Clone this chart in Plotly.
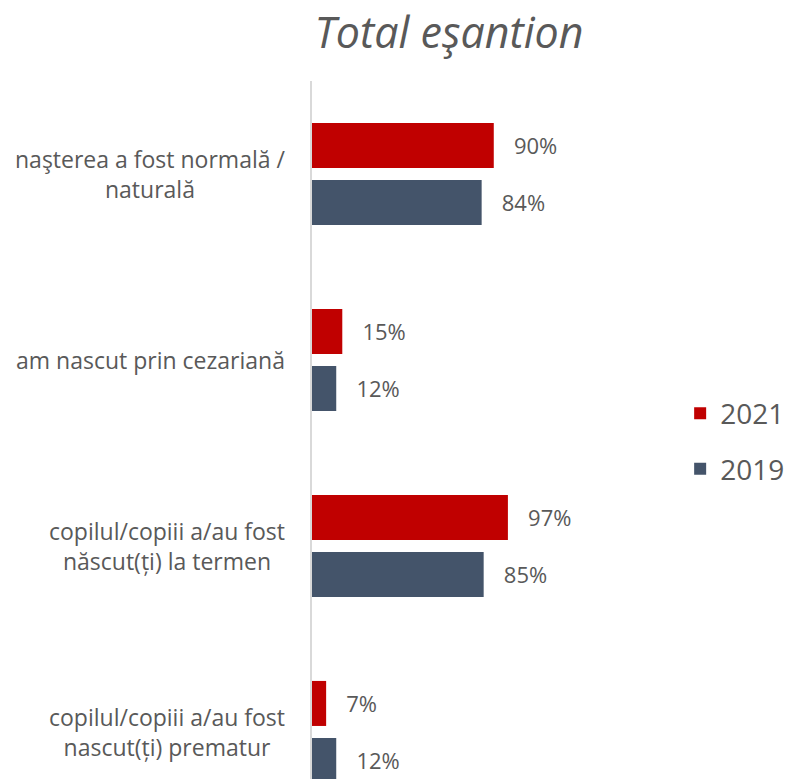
import plotly.graph_objects as go

categories = [
    "naşterea a fost normală /<br>naturală",
    "am nascut prin cezariană",
    "copilul/copiii a/au fost<br>născut(ți) la termen",
    "copilul/copiii a/au fost<br>nascut(ți) prematur",
]
cat_ids = ["c1", "c2", "c3", "c4"]
series_names = ["2021", "2019"]
values_2021 = [90, 15, 97, 7]
values_2019 = [84, 12, 85, 12]
colors = {"2021": "#C00000", "2019": "#44546A"}

FONT = "Open Sans, sans-serif"
GREY = "#595959"
NB = "\u00a0"

fig = go.Figure()
for name, vals in zip(series_names, [values_2021, values_2019]):
    fig.add_trace(go.Bar(
        y=cat_ids, x=vals, orientation="h", name=name,
        marker=dict(color=colors[name], line=dict(width=0)),
        text=[f"{NB*3}{v}%" for v in vals], textposition="outside",
        textfont=dict(size=22, color=GREY, family=FONT),
        cliponaxis=False, legendgroup=name,
    ))

for cid, label in zip(cat_ids, categories):
    fig.add_annotation(
        x=-0.0676, xref="paper", y=cid, yref="y", text=label,
        xanchor="right", yanchor="middle", align="center", showarrow=False,
        font=dict(size=23, color=GREY, family=FONT),
    )

fig.update_layout(
    width=784, height=771,
    margin=dict(l=304, r=110, t=73, b=0, autoexpand=False),
    paper_bgcolor="white", plot_bgcolor="white",
    barmode="group", bargap=0.387, bargroupgap=0.21,
    title=dict(text="<i>Total eşantion</i>", x=441 / 784, xanchor="center",
               y=1 - 25 / 771, yanchor="middle",
               font=dict(size=43, color=GREY, family=FONT)),
    legend=dict(x=0.995, xanchor="left", y=0.484, yanchor="middle",
                traceorder="grouped", tracegroupgap=16,
                font=dict(size=28, color=GREY, family=FONT),
                itemwidth=30),
    xaxis=dict(range=[0, 183.2], showticklabels=False, showgrid=False,
               zeroline=False, showline=False, automargin=False),
    yaxis=dict(range=[3.253, -0.5], showticklabels=False, showgrid=False,
               zeroline=False, showline=True, linecolor="#D9D9D9", linewidth=2,
               ticks="", automargin=False),
)

fig.write_html("out.html")
